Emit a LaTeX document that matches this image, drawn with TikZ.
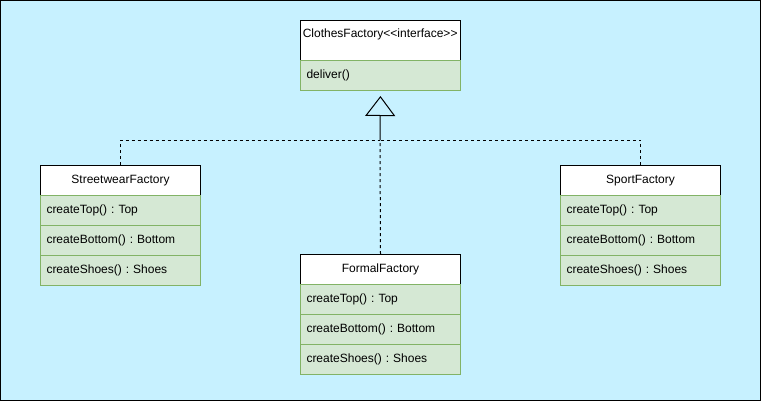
\documentclass[tikz,border=0pt]{standalone}
\usepackage{fontspec}
\setmainfont{Liberation Sans}
\usetikzlibrary{arrows.meta}
\definecolor{bgc}{RGB}{199,241,255}
\definecolor{grnf}{HTML}{D5E8D4}
\definecolor{grnd}{HTML}{82B366}
\frenchspacing
\begin{document}
\begin{tikzpicture}[x=0.75pt,y=-0.75pt,
  every node/.style={font=\fontsize{9}{11}\selectfont},
  hdr/.style={draw=black,fill=white,line width=0.75pt,minimum width=120pt,minimum height=22.5pt,inner sep=0pt,anchor=north west},
  row/.style={draw=grnd,fill=grnf,line width=0.75pt,minimum height=22.5pt,text width=111pt,inner xsep=4.5pt,inner ysep=0pt,align=left,anchor=north west},
  txt/.style={inner sep=0pt,anchor=west},
  dashline/.style={line width=0.75pt,dash pattern=on 2.25pt off 2.25pt},
  solidline/.style={line width=0.75pt}
]
\useasboundingbox (0,0) rectangle (761,401);
\draw[fill=bgc,line width=0.75pt] (0.5,0.5) rectangle (760.5,400.5);

% ClothesFactory
\node[hdr,minimum height=30pt] (cf) at (300,20) {};
\node[txt] (cft) at (302.5,34) {ClothesFactory<{}<interface>{}>};
\node[row] (cfm) at (300,60) {deliver()};

% Streetwear
\node[hdr] (sw) at (40,165) {StreetwearFactory};
\node[row] (sw1) at (40,195) {createTop() : Top};
\node[row] (sw2) at (40,225) {createBottom() : Bottom};
\node[row] (sw3) at (40,255) {createShoes() : Shoes};

% Formal
\node[hdr] (ff) at (300,254) {FormalFactory};
\node[row] (ff1) at (300,284) {createTop() : Top};
\node[row] (ff2) at (300,314) {createBottom() : Bottom};
\node[row] (ff3) at (300,344) {createShoes() : Shoes};

% Sport
\node[hdr] (sp) at (560,165) {SportFactory};
\node[row] (sp1) at (560,195) {createTop() : Top};
\node[row] (sp2) at (560,225) {createBottom() : Bottom};
\node[row] (sp3) at (560,255) {createShoes() : Shoes};

% connectors
\coordinate (j) at (380,140);
\draw[dashline] (ff.north) -- (j);
\draw[dashline] (sw.north) |- (j);
\draw[dashline] (sp.north) |- (j);
\draw[solidline,-{Triangle[open,width=22.5pt,length=15pt]},shorten >=3.75pt] (j) -- (cfm.south);
\end{tikzpicture}
\end{document}
